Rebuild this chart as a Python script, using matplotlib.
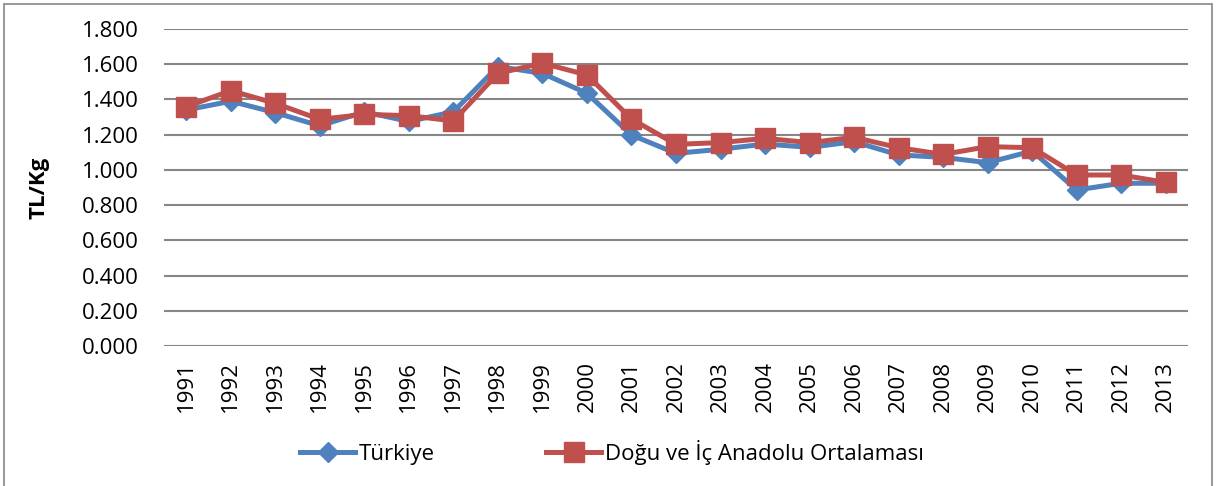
import matplotlib.pyplot as plt
from matplotlib.patches import Rectangle
from matplotlib.ticker import FuncFormatter

# Yıllar ve fiyatlar (TL/Kg)
yillar = [str(y) for y in range(1991, 2014)]
turkiye = [1.34, 1.39, 1.325, 1.25, 1.33, 1.275, 1.33, 1.587, 1.548, 1.435, 1.198,
           1.094, 1.117, 1.147, 1.128, 1.16, 1.085, 1.071, 1.041, 1.107, 0.886, 0.924, 0.924]
dogu_ic = [1.359, 1.45, 1.378, 1.287, 1.315, 1.308, 1.278, 1.548, 1.606, 1.539, 1.289,
           1.145, 1.155, 1.179, 1.155, 1.185, 1.126, 1.088, 1.132, 1.126, 0.971, 0.971, 0.929]

plt.rcParams['font.family'] = ['Open Sans', 'DejaVu Sans']

fig = plt.figure(figsize=(12.16, 4.86), dpi=100)
ax = fig.add_axes([164 / 1216, 1 - 346 / 486, 1024 / 1216, 317 / 486])

x = list(range(len(yillar)))
ax.plot(x, turkiye, color='#4F81BD', lw=3.6, marker='D', ms=10,
        label='Türkiye', zorder=3)
ax.plot(x, dogu_ic, color='#C0504D', lw=3.6, marker='s', ms=14,
        label='Doğu ve İç Anadolu Ortalaması', zorder=4)

ax.set_xlim(-0.5, len(yillar) - 0.5)
ax.set_ylim(0, 1.8)
ax.set_yticks([i * 0.2 for i in range(10)])
ax.yaxis.set_major_formatter(FuncFormatter(lambda v, p: f"{v:.3f}"))
ax.set_xticks(x)
ax.set_xticklabels(yillar, rotation=90, fontsize=16)
ax.tick_params(axis='y', labelsize=16, length=0, pad=18)
ax.tick_params(axis='x', length=0, pad=11)
ax.grid(axis='y', color='#868686', lw=1.5)
ax.set_axisbelow(True)
for s in ax.spines.values():
    s.set_visible(False)

ax.set_ylabel('TL/Kg', fontsize=16, fontweight='bold')
ax.yaxis.set_label_coords(-114 / 1024, 0.5)

leg = fig.legend(loc='center', bbox_to_anchor=(0.503, 1 - 452 / 486), ncol=2,
                 frameon=False, fontsize=16, columnspacing=5,
                 handlelength=2.5, handletextpad=0.15, numpoints=1)

# çerçeve
fig.patches.append(Rectangle((4 / 1216, -0.01), 1 - 8 / 1216, 1 - 4 / 486 + 0.01,
                             transform=fig.transFigure, fill=False,
                             edgecolor='#868686', lw=1.2))

fig.savefig('out.png', dpi=100)
